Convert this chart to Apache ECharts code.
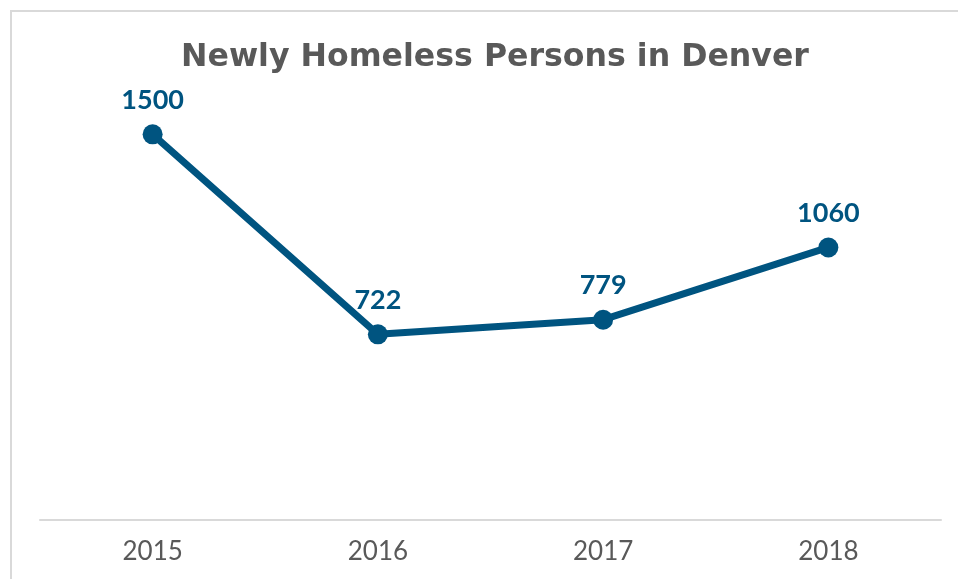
<!DOCTYPE html>
<html><head><meta charset="utf-8">
<script src="https://cdn.jsdelivr.net/npm/echarts@6/dist/echarts.min.js"></script>
<style>html,body{margin:0;padding:0;background:#fff}#c{width:958px;height:579px}</style>
</head><body><div id="c"></div>
<script>
const categories = ['2015','2016','2017','2018'];
const newlyHomeless = [1500, 722, 779, 1060];
const titleText = 'Newly Homeless Persons in Denver';
const chart = echarts.init(document.getElementById('c'));
chart.setOption({
  animation:false,
  backgroundColor:'#fff',
  title:{text:titleText,left:490,textAlign:'center',top:37,
    textStyle:{fontFamily:'DejaVu Sans',fontWeight:'bold',fontSize:31.6,color:'#595959'}},
  graphic:[{type:'rect',shape:{x:11,y:11,width:1000,height:620},style:{fill:'none',stroke:'#d9d9d9',lineWidth:2},silent:true}],
  grid:{left:40,right:17,top:108.6,bottom:59},
  xAxis:{type:'category',data:categories,
    axisLine:{lineStyle:{color:'#d9d9d9',width:2}},axisTick:{show:false},
    axisLabel:{fontFamily:'Lato',fontSize:26,color:'#595959',margin:19}},
  yAxis:{type:'value',min:0,max:1600,show:false,splitLine:{show:false}},
  series:[{type:'line',data:newlyHomeless,
    lineStyle:{color:'#005480',width:7},itemStyle:{color:'#005480'},
    symbol:'circle',symbolSize:20,
    label:{show:true,position:'top',distance:11,fontFamily:'Lato',fontWeight:'bold',fontSize:27,color:'#005480'}}]
});
</script></body></html>
